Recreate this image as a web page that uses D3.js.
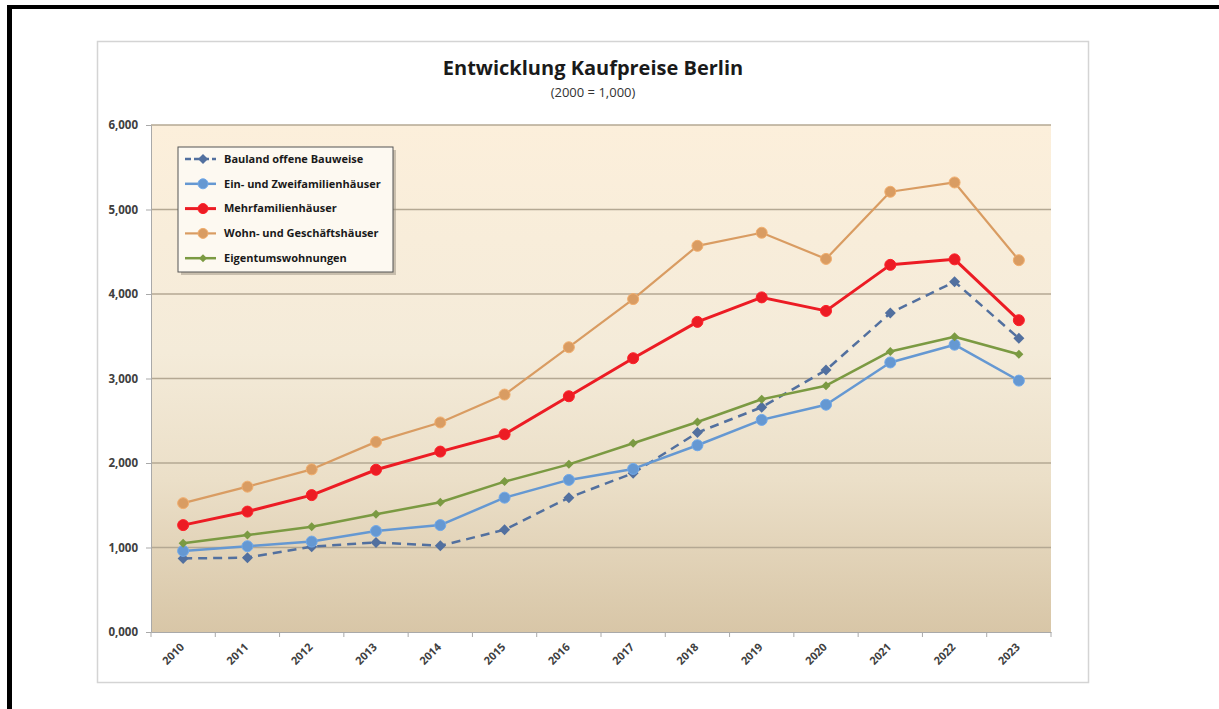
<!DOCTYPE html>
<html><head><meta charset="utf-8">
<script src="https://cdn.jsdelivr.net/npm/d3@7"></script>
<style>body{margin:0;background:#fff}svg{display:block}</style>
</head><body><svg id="c" width="1219" height="709"></svg>
<script>
const years = ["2010","2011","2012","2013","2014","2015","2016","2017","2018","2019","2020","2021","2022","2023"];
const yTickValues = [0,1000,2000,3000,4000,5000,6000];
const yTickLabels = ["0,000","1,000","2,000","3,000","4,000","5,000","6,000"];
const seriesNames = ["Bauland offene Bauweise","Ein- und Zweifamilienhäuser","Mehrfamilienhäuser","Wohn- und Geschäftshäuser","Eigentumswohnungen"];
const bauland   = [870, 880, 1010, 1060, 1020, 1210, 1590, 1880, 2360, 2660, 3100, 3775, 4145, 3475];
const einZwei   = [960, 1015, 1070, 1195, 1265, 1590, 1800, 1930, 2210, 2510, 2690, 3190, 3400, 2975];
const mehr      = [1265, 1425, 1620, 1920, 2135, 2340, 2790, 3240, 3670, 3960, 3800, 4345, 4410, 3690];
const wohn      = [1525, 1720, 1925, 2250, 2480, 2810, 3370, 3940, 4570, 4725, 4415, 5210, 5320, 4400];
const eigentum  = [1050, 1148, 1246, 1393, 1535, 1780, 1984, 2233, 2485, 2754, 2915, 3320, 3495, 3286];

const styles = [
  {color:"#52709f", width:2.5, dash:"9,6", marker:"diamond", size:5.5},
  {color:"#6598d2", width:2.5, dash:null, marker:"circle", size:5.5},
  {color:"#ec1c24", width:3, dash:null, marker:"circle", size:5.5},
  {color:"#d99c62", width:2.2, dash:null, marker:"circle", size:5.5},
  {color:"#7b9a42", width:2.5, dash:null, marker:"diamond", size:4.5}
];
const data = [bauland, einZwei, mehr, wohn, eigentum];

const svg = d3.select("#c");
const font = "'Open Sans', 'Liberation Sans', Arial, sans-serif";

// outer black border (top + left)
svg.append("rect").attr("x",7).attr("y",5).attr("width",1212).attr("height",4).attr("fill","#000");
svg.append("rect").attr("x",7).attr("y",5).attr("width",5).attr("height",704).attr("fill","#000");

// chart frame
svg.append("rect").attr("x",97.5).attr("y",41.5).attr("width",991).attr("height",641)
  .attr("fill","#fff").attr("stroke","#d4d4d4").attr("stroke-width",1.5);

const L=151, R=1051, T=125, B=632;
const x = d3.scaleBand().domain(years).range([L,R]);
const y = d3.scaleLinear().domain([0,6000]).range([B,T]);

const defs = svg.append("defs");
const g = defs.append("linearGradient").attr("id","bg").attr("x1",0).attr("y1",0).attr("x2",0).attr("y2",1);
g.append("stop").attr("offset","0%").attr("stop-color","#fcefdb");
g.append("stop").attr("offset","45%").attr("stop-color","#f4ebd9");
g.append("stop").attr("offset","70%").attr("stop-color","#ebdfc8");
g.append("stop").attr("offset","100%").attr("stop-color","#d8c6a7");
svg.append("rect").attr("x",L).attr("y",T).attr("width",R-L).attr("height",B-T).attr("fill","url(#bg)");

// gridlines
svg.append("g").selectAll("line").data(yTickValues.filter(v=>v>0)).join("line")
  .attr("x1",L).attr("x2",R).attr("y1",d=>y(d)).attr("y2",d=>y(d))
  .attr("stroke","#b4a893").attr("stroke-width",1.5);

// y axis
const yAxis = d3.axisLeft(y).tickValues(yTickValues).tickSize(5).tickFormat((d,i)=>yTickLabels[i]);
const ya = svg.append("g").attr("transform",`translate(${L},0)`).call(yAxis);
ya.select(".domain").attr("stroke","#a9a9a9");
ya.selectAll(".tick line").attr("stroke","#a9a9a9");
ya.selectAll("text").attr("font-family",font).attr("font-size",11.5).attr("font-weight","bold")
  .attr("fill","#404040").attr("x",-13);

// x axis
const xAxis = d3.axisBottom(x).tickSize(0);
const xa = svg.append("g").attr("transform",`translate(0,${B})`).call(xAxis);
xa.select(".domain").attr("stroke","#a9a9a9");
xa.selectAll("text").attr("font-family",font).attr("font-size",11).attr("font-weight","bold")
  .attr("fill","#404040").attr("text-anchor","end")
  .attr("transform","translate(-1,13) rotate(-45)").attr("dy","0.35em").attr("y",0);
// x ticks at band boundaries
svg.append("g").selectAll("line").data(years.concat(["end"])).join("line")
  .attr("x1",(d,i)=>L+i*x.bandwidth()).attr("x2",(d,i)=>L+i*x.bandwidth())
  .attr("y1",B).attr("y2",B+5).attr("stroke","#a9a9a9");

// series
const line = d3.line().x((d,i)=>x(years[i])+x.bandwidth()/2).y(d=>y(d));
function drawMarker(sel, st, cx, cy){
  if(st.marker==="circle"){
    sel.append("circle").attr("cx",cx).attr("cy",cy).attr("r",st.size)
      .attr("fill",st.color).attr("stroke",d3.color(st.color).brighter(0.3)).attr("stroke-width",1);
  } else {
    const s=st.size;
    sel.append("path").attr("d",`M${cx},${cy-s}L${cx+s},${cy}L${cx},${cy+s}L${cx-s},${cy}Z`)
      .attr("fill",st.color);
  }
}
data.forEach((vals,k)=>{
  const st=styles[k];
  const gg=svg.append("g");
  gg.append("path").attr("d",line(vals)).attr("fill","none").attr("stroke",st.color)
    .attr("stroke-width",st.width).attr("stroke-dasharray",st.dash).attr("stroke-linejoin","round");
  vals.forEach((v,i)=>drawMarker(gg,st,x(years[i])+x.bandwidth()/2,y(v)));
});

// title
svg.append("text").attr("x",593).attr("y",75).attr("text-anchor","middle")
  .attr("font-family",font).attr("font-size",20).attr("font-weight","bold").attr("fill","#1a1a1a")
  .text("Entwicklung Kaufpreise Berlin");
svg.append("text").attr("x",593).attr("y",97).attr("text-anchor","middle")
  .attr("font-family",font).attr("font-size",13).attr("fill","#333")
  .text("(2000 = 1,000)");

// legend
const lx=178, ly=147, lw=215, lh=125;
svg.append("rect").attr("x",lx+3).attr("y",ly+3).attr("width",lw).attr("height",lh).attr("fill","#9a9080").attr("opacity",0.5);
svg.append("rect").attr("x",lx).attr("y",ly).attr("width",lw).attr("height",lh)
  .attr("fill","#fdf9f1").attr("stroke","#555").attr("stroke-width",1);
seriesNames.forEach((name,k)=>{
  const st=styles[k];
  const yy = ly + 12 + k*24.8;
  const lg=svg.append("g");
  lg.append("line").attr("x1",lx+7).attr("x2",lx+38).attr("y1",yy).attr("y2",yy)
    .attr("stroke",st.color).attr("stroke-width",st.width).attr("stroke-dasharray",st.dash?"6,3":null);
  drawMarker(lg,{...st,size:st.size-0.5},lx+25,yy);
  lg.append("text").attr("x",lx+46).attr("y",yy).attr("dy","0.35em")
    .attr("font-family",font).attr("font-size",11).attr("font-weight","bold").attr("fill","#1a1a1a")
    .text(name);
});
</script></body></html>
